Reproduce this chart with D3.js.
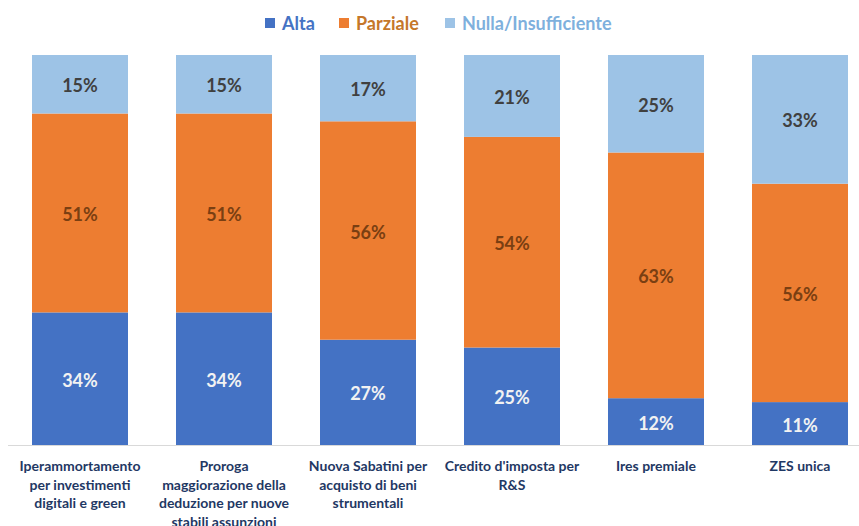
<!DOCTYPE html>
<html>
<head>
<meta charset="utf-8">
<script src="https://cdn.jsdelivr.net/npm/d3@7"></script>
<style>
  html, body { margin: 0; padding: 0; background: #fff; }
  svg { display: block; }
  text { font-family: Lato, "Open Sans", sans-serif; font-weight: bold; }
</style>
</head>
<body>
<svg id="chart" width="859" height="526"></svg>
<script>
const categories = [
  ["Iperammortamento", "per investimenti", "digitali e green"],
  ["Proroga", "maggiorazione della", "deduzione per nuove", "stabili assunzioni"],
  ["Nuova Sabatini per", "acquisto di beni", "strumentali"],
  ["Credito d'imposta per", "R&S"],
  ["Ires premiale"],
  ["ZES unica"]
];
const seriesNames = ["Alta", "Parziale", "Nulla/Insufficiente"];
const alta = [34, 34, 27, 25, 12, 11];
const parziale = [51, 51, 56, 54, 63, 56];
const nulla = [15, 15, 17, 21, 25, 33];

const colors = ["#4472C4", "#ED7D31", "#9DC3E6"];
const legendTextColors = ["#4472C4", "#C5772A", "#7EB0DD"];
const labelColors = ["#F2F2F2", "#7A3F12", "#404040"];

const svg = d3.select("#chart");
const W = 859, H = 526;
const plotTop = 55, plotBottom = 445;

const keys = categories.map((c, i) => "c" + i);
const rows = keys.map((k, i) => ({ key: k, alta: alta[i], parziale: parziale[i], nulla: nulla[i] }));

const x = d3.scaleBand().domain(keys).range([8, 872]).paddingInner(1 / 3).paddingOuter(1 / 6);
const y = d3.scaleLinear().domain([0, 100]).range([plotBottom, plotTop]);

const stack = d3.stack().keys(["alta", "parziale", "nulla"]);
const layers = stack(rows);

const g = svg.append("g");
layers.forEach((layer, li) => {
  g.selectAll(".bar" + li).data(layer).enter().append("rect")
    .attr("x", d => x(d.data.key))
    .attr("width", x.bandwidth())
    .attr("y", d => y(d[1]))
    .attr("height", d => y(d[0]) - y(d[1]))
    .attr("fill", colors[li]);
  g.selectAll(".lab" + li).data(layer).enter().append("text")
    .attr("x", d => x(d.data.key) + x.bandwidth() / 2)
    .attr("y", d => (y(d[0]) + y(d[1])) / 2)
    .attr("dy", "0.45em")
    .attr("text-anchor", "middle")
    .attr("font-size", 18)
    .attr("fill", labelColors[li])
    .text(d => (d[1] - d[0]) + "%");
});

// axis line
svg.append("line")
  .attr("x1", 8).attr("x2", W).attr("y1", plotBottom + 0.5).attr("y2", plotBottom + 0.5)
  .attr("stroke", "#D9D9D9").attr("stroke-width", 1);

// category labels
categories.forEach((lines, i) => {
  const t = svg.append("text")
    .attr("text-anchor", "middle")
    .attr("font-size", 14)
    .attr("fill", "#1F3864");
  lines.forEach((ln, j) => {
    t.append("tspan")
      .attr("x", x(keys[i]) + x.bandwidth() / 2)
      .attr("y", 471 + j * 18.5)
      .text(ln);
  });
});

// legend
const legendX = [265, 339, 445];
seriesNames.forEach((name, i) => {
  svg.append("rect")
    .attr("x", legendX[i]).attr("y", 18).attr("width", 10).attr("height", 10)
    .attr("fill", colors[i]);
  svg.append("text")
    .attr("x", legendX[i] + 17).attr("y", 29.5)
    .attr("font-size", 18)
    .attr("fill", legendTextColors[i])
    .text(name);
});
</script>
</body>
</html>
